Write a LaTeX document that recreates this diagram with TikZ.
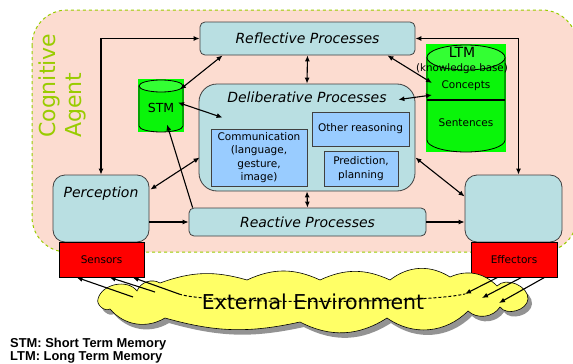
\documentclass[tikz,border=0pt]{standalone}
\usepackage{fontspec}
\setmainfont{DejaVu Sans}
\newfontfamily\footfont{Liberation Sans}
\usetikzlibrary{shadows,arrows.meta,calc}
\definecolor{agentfill}{RGB}{252,220,208}
\definecolor{agentline}{RGB}{153,204,0}
\definecolor{procfill}{RGB}{185,223,226}
\definecolor{subfill}{RGB}{153,204,255}
\definecolor{cylbg}{RGB}{0,255,0}
\definecolor{cylbody}{RGB}{10,245,10}
\definecolor{cyltop}{RGB}{51,255,51}
\definecolor{envfill}{RGB}{255,255,102}
\definecolor{boxline}{RGB}{64,64,64}
\tikzset{
 proc/.style={draw=boxline, line width=0.8pt, fill=procfill, rounded corners=5pt, inner sep=0pt},
 sub/.style={draw=boxline, line width=0.8pt, fill=subfill, inner sep=0pt, align=center, font=\fontsize{10.5}{13.3}\selectfont},
 ptitle/.style={font=\fontsize{14}{16}\selectfont\itshape, inner sep=0pt},
 io/.style={draw=black, line width=0.8pt, fill=red, inner sep=0pt, font=\fontsize{10.5}{12}\selectfont},
 conn/.style={line width=1.1pt, draw=black},
 dbl/.style={conn, {Latex[length=6pt,width=5pt]}-{Latex[length=6pt,width=5pt]}},
 one/.style={conn, -{Latex[length=6pt,width=5pt]}},
 cyl/.style={draw=black, line width=0.8pt},
 small/.style={font=\fontsize{10.5}{12}\selectfont, inner sep=0pt},
 foot/.style={anchor=base west, inner sep=0pt, font=\footfont\bfseries\fontsize{12.9}{14}\selectfont},
}
\begin{document}
\begin{tikzpicture}[x=1pt,y=-1pt]
\useasboundingbox (0,0) rectangle (573,364);
% cognitive agent
\draw[agentline, dashed, line width=1pt, fill=agentfill, rounded corners=35pt] (32,10) rectangle (577,252);
\node[rotate=90, anchor=base west, text=agentline, font=\fontsize{22}{24}\selectfont, inner sep=0pt] (cog) at (55,138) {Cognitive};
\node[rotate=90, anchor=base west, text=agentline, font=\fontsize{22}{24}\selectfont, inner sep=0pt] (agt) at (81,138) {Agent};
% process boxes
\node[proc, minimum width=215pt, minimum height=33pt, ptitle] (refl) at (307.5,38.5) {Reflective Processes};
\node[proc, rounded corners=18pt, minimum width=216pt, minimum height=107pt] (delib) at (307,137.5) {};
\node[ptitle] (delibt) at (307,97.5) {Deliberative Processes};
\node[sub, minimum width=96pt, minimum height=57pt] (comm) at (259,157.5) {Communication\\(language,\\gesture,\\image)};
\node[sub, minimum width=97pt, minimum height=34pt] (other) at (360.5,129) {Other reasoning};
\node[sub, minimum width=74pt, minimum height=35pt] (pred) at (361,168.5) {Prediction,\\planning};
\node[proc, minimum width=237pt, minimum height=28pt, ptitle] (react) at (307.5,222) {Reactive Processes};
\node[proc, rounded corners=12pt, minimum width=96pt, minimum height=67pt] (perc) at (101,208.5) {};
\node[ptitle] (perct) at (101,193.5) {Perception};
\node[proc, rounded corners=12pt, minimum width=97pt, minimum height=67pt] (effbox) at (513.5,208.5) {};
% sensors / effectors
\node[io, minimum width=85pt, minimum height=35pt] (sens) at (101.5,259.5) {Sensors};
\node[io, minimum width=86pt, minimum height=35pt] (effr) at (514,259.5) {Effectors};
% STM cylinder
\node[fill=cylbg, minimum width=46pt, minimum height=53pt, inner sep=0pt] (stm) at (161,105.5) {};
\filldraw[cyl, fill=cylbody] (139,86) -- (139,126) arc[start angle=180, end angle=0, x radius=22, y radius=6] -- (183,86) -- cycle;
\filldraw[cyl, fill=cyltop] (161,86) ellipse[x radius=22, y radius=6];
\node[font=\fontsize{12.5}{14}\selectfont, inner sep=0pt] (stmt) at (161,108) {STM};
% LTM cylinder
\node[fill=cylbg, minimum width=80pt, minimum height=108pt, inner sep=0pt] (ltm) at (466,98) {};
\filldraw[cyl, fill=cylbody] (427,57.5) -- (427,140) arc[start angle=180, end angle=0, x radius=39, y radius=12] -- (505,57.5) -- cycle;
\filldraw[cyl, fill=cyltop] (466,57.5) ellipse[x radius=39, y radius=12.5];
\draw[line width=1.8pt] (427,100) -- (505,100);
\node[font=\fontsize{14}{16}\selectfont, inner sep=0pt] (ltmt) at (462,52) {LTM};
\node[small, font=\fontsize{10.3}{12}\selectfont] (kb) at (462,69) {(knowledge base)};
\node[small] (conc) at (466,86) {Concepts};
\node[small] (sent) at (466,123) {Sentences};
% environment cloud
\filldraw[fill=envfill, draw=black, line width=0.6pt, drop shadow={shadow xshift=4pt, shadow yshift=-5pt, fill=gray!85, opacity=1}]
  (98,299) to[bend left=65] (137,291) to[bend left=50] (160,283) to[bend left=18] (247,280)
  to[bend left=25] (320,280) to[bend left=25] (390,280) to[bend left=35] (450,277)
  to[bend left=35] (497,286) to[bend left=70] (528,299) to[bend left=70] (500,307)
  to[bend left=50] (468,311) to[bend left=40] (387,318) to[bend left=30] (300,322)
  to[bend left=14] (165,318) to[bend left=40] (110,309) to[bend left=70] cycle;
\node[inner sep=0pt, font=\fontsize{20.5}{22}\selectfont] (env) at (313,302) {External Environment};
% connectors
\draw[dbl] (perc.north) |- (refl.west);
\draw[dbl] (refl.east) -| ([xshift=5pt]effbox.north);
\draw[dbl] ($(stm.center)+(19,-16)$) -- ($(refl.south west)+(23,0)$);
\draw[dbl] (refl.south) -- (delib.north);
\draw[dbl] ($(refl.south east)+(-28,0)$) -- ($(ltm.center)+(-34,-15)$);
\draw[dbl] ($(delib.north east)+(-17,16)$) -- ($(ltm.center)+(-34,-3)$);
\draw[dbl] ($(stm.center)+(17,-3)$) -- ($(delib.north west)+(24,34)$);
\draw[one] ($(react.north west)+(4,0)$) -- ($(stm.center)+(6,19)$);
\draw[dbl] ($(perc.north east)+(1,15)$) -- ($(delib.west)+(1,20)$);
\draw[one] (perc.east |- react.west) -- (react.west);
\draw[dbl] (delib.south) -- (react.north);
\draw[dbl] ($(delib.east)+(0,20)$) -- ($(effbox.west)+(0,-12)$);
\draw[one] (react.east) -- (effbox.west |- react.east);
% sensor / effector arrows
\draw[one] ($(env.center)+(-180,-5)$) -- ($(sens.south west)+(18,0)$);
\draw[one] ($(env.center)+(-158,-10)$) -- ($(sens.south west)+(51,0)$);
\draw[one] ($(env.center)+(-134,-8)$) -- ($(sens.south west)+(74,0)$);
\draw[one] ($(effr.south west)+(27,0)$) -- ($(env.center)+(152,-8)$);
\draw[one] ($(effr.south west)+(51,0)$) -- ($(env.center)+(169,-4)$);
\draw[one] ($(effr.south west)+(74,0)$) -- ($(env.center)+(186,1)$);
\draw[conn, line width=1pt, dash pattern=on 3pt off 2pt] ($(env.center)+(-134,-8)$) .. controls (205,304) and (420,304) .. ($(env.center)+(152,-8)$);
% footer
\node[foot] (f1) at (10,347) {STM: Short Term Memory};
\node[foot] (f2) at (10,360) {LTM: Long Term Memory};
\end{tikzpicture}
\end{document}
